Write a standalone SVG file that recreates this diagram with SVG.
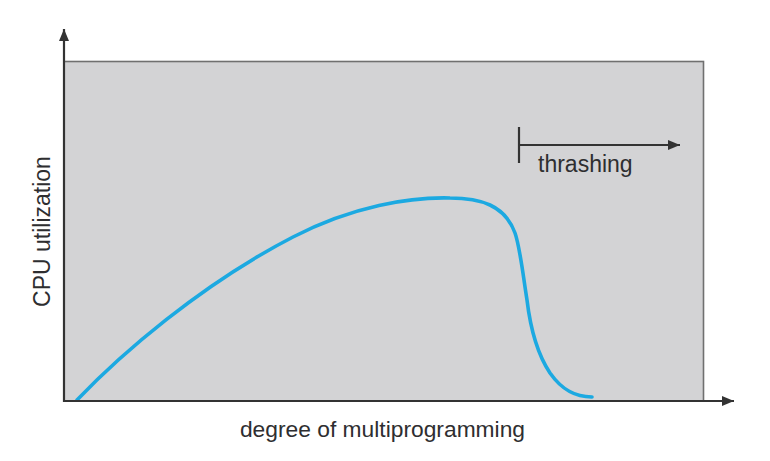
<svg xmlns="http://www.w3.org/2000/svg" width="770" height="461" viewBox="0 0 770 461">
<style>
.lbl{font-family:"Liberation Sans",Arial,sans-serif;fill:#2e2e30;}
.ax{stroke:#333;stroke-width:2.2;fill:none;}
</style>
<defs>
<marker id="ah" viewBox="0 0 12 10" refX="12" refY="5" markerWidth="12" markerHeight="10" markerUnits="userSpaceOnUse" orient="auto">
<path d="M0,0 L12,5 L0,10 Z" fill="#333"/>
</marker>
</defs>
<rect width="770" height="461" fill="#ffffff"/>
<g id="plot-area">
<rect x="64" y="61.5" width="639.5" height="339.5" fill="#d3d3d5" stroke="#707070" stroke-width="1.6"/>
</g>
<g id="curve">
<path d="M77,400 C120,355 200,285 293,237 C353,206 410,197 450,198 C480,198 505,205 515,233 C520,247 523,275 527,300 C530,325 536,352 550,373 C562,390 575,397 592,397" fill="none" stroke="#1ca9e1" stroke-width="3.6" stroke-linecap="round"/>
</g>
<g id="connectors">
<line class="ax" x1="64" y1="402" x2="64" y2="29" marker-end="url(#ah)"/>
<line class="ax" x1="63" y1="401" x2="734" y2="401" marker-end="url(#ah)"/>
<line class="ax" x1="519" y1="127" x2="519" y2="163"/>
<line class="ax" x1="519" y1="145" x2="680" y2="145" marker-end="url(#ah)"/>
</g>
<g id="labels">
<text class="lbl" x="538" y="172" font-size="23">thrashing</text>
<text class="lbl" x="382.5" y="437" font-size="22.8" text-anchor="middle">degree of multiprogramming</text>
<text class="lbl" transform="translate(50,231.5) rotate(-90)" font-size="23" text-anchor="middle">CPU utilization</text>
</g>
</svg>
